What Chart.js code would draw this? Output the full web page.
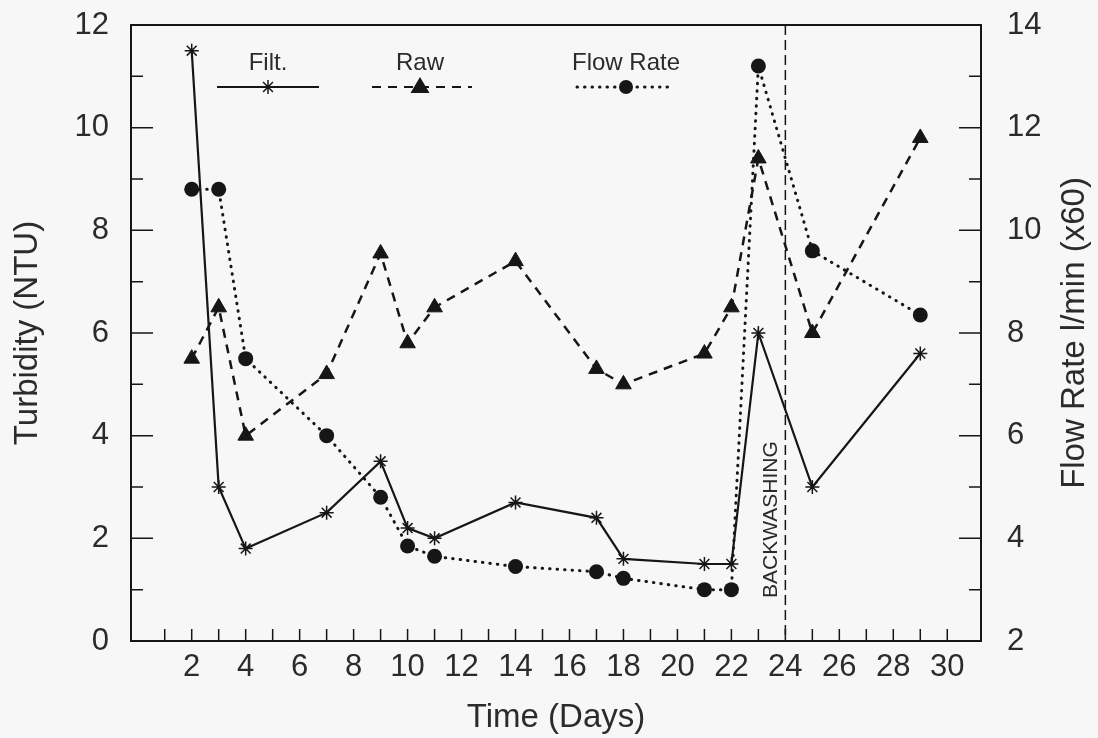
<!DOCTYPE html>
<html>
<head>
<meta charset="utf-8">
<script src="https://cdn.jsdelivr.net/npm/chart.js@4.4.0/dist/chart.umd.min.js"></script>
<style>
  html, body { margin: 0; padding: 0; background: #f7f7f7; }
  #wrap { width: 1098px; height: 738px; }
</style>
</head>
<body>
<div id="wrap"><canvas id="turbidity"></canvas></div>
<script>
// values
const days = [2, 3, 4, 7, 9, 10, 11, 14, 17, 18, 21, 22, 23, 25, 29];
const filtered = [11.5, 3.0, 1.8, 2.5, 3.5, 2.2, 2.0, 2.7, 2.4, 1.6, 1.5, 1.5, 6.0, 3.0, 5.6];
const raw = [5.5, 6.5, 4.0, 5.2, 7.55, 5.8, 6.5, 7.4, 5.3, 5.0, 5.6, 6.5, 9.4, 6.0, 9.8];
const flowRate = [10.8, 10.8, 7.5, 6.0, 4.8, 3.85, 3.65, 3.45, 3.35, 3.22, 3.0, 3.0, 13.2, 9.6, 8.35];

const dayTicks = [2, 4, 6, 8, 10, 12, 14, 16, 18, 20, 22, 24, 26, 28, 30];
const turbidityTicks = [0, 2, 4, 6, 8, 10, 12];
const flowTicks = [2, 4, 6, 8, 10, 12, 14];
const backwashDay = 24;
const flowTitle = 'Flow Rate l/min (x60)';

const ink = '#161616';
const textCol = '#2b2b2b';
const fontFam = '"Liberation Sans", Arial, Helvetica, sans-serif';

const toPoints = (vals) => days.map((d, i) => ({ x: d, y: vals[i] }));

// small marker painters for the legend
const drawStar = (ctx, x, y, r) => {
    ctx.beginPath();
    for (let k = 0; k < 4; k++) {
        const a = k * Math.PI / 4;
        ctx.moveTo(x - r * Math.cos(a), y - r * Math.sin(a));
        ctx.lineTo(x + r * Math.cos(a), y + r * Math.sin(a));
    }
    ctx.stroke();
}
const drawTriangle = (ctx, x, y, r) => {
    ctx.beginPath();
    ctx.moveTo(x, y - r);
    ctx.lineTo(x + r * 0.95, y + r * 0.6);
    ctx.lineTo(x - r * 0.95, y + r * 0.6);
    ctx.closePath();
    ctx.fill();
}
const drawDot = (ctx, x, y, r) => {
    ctx.beginPath();
    ctx.arc(x, y, r, 0, Math.PI * 2);
    ctx.fill();
}

const bgFill = {
    id: 'bgFill',
    beforeDraw(chart) {
        const ctx = chart.ctx;
        ctx.save();
        ctx.fillStyle = '#f7f7f7';
        ctx.fillRect(0, 0, chart.width, chart.height);
        ctx.restore();
    }
}

const backwash = {
    id: 'backwash',
    beforeDatasetsDraw(chart) {
        const { ctx, chartArea: a, scales } = chart;
        const px = scales.x.getPixelForValue(backwashDay);
        ctx.save();
        ctx.strokeStyle = ink;
        ctx.lineWidth = 1.5;
        ctx.setLineDash([10, 5]);
        ctx.beginPath();
        ctx.moveTo(px, a.top);
        ctx.lineTo(px, a.bottom);
        ctx.stroke();
        ctx.setLineDash([]);
        ctx.translate(px - 14, a.bottom - 43);
        ctx.rotate(-Math.PI / 2);
        ctx.fillStyle = textCol;
        ctx.font = '21px ' + fontFam;
        ctx.textAlign = 'left';
        ctx.textBaseline = 'middle';
        ctx.fillText('BACKWASHING', 0, 0);
        ctx.restore();
    }
}

const frameTicks = {
    id: 'frameTicks',
    afterDatasetsDraw(chart) {
        const { ctx, chartArea: a, scales } = chart;
        ctx.save();
        ctx.strokeStyle = ink;
        ctx.lineWidth = 2;
        ctx.strokeRect(a.left, a.top, a.right - a.left, a.bottom - a.top);
        ctx.lineWidth = 1.5;
        ctx.beginPath();
        for (let d = 1; d <= 30; d++) {
            const px = scales.x.getPixelForValue(d);
            ctx.moveTo(px, a.bottom);
            ctx.lineTo(px, a.bottom - 12);
        }
        for (let v = 0; v <= 12; v++) {
            const py = scales.y.getPixelForValue(v);
            ctx.moveTo(a.left, py);
            ctx.lineTo(a.left + (v % 2 === 0 ? 22 : 12), py);
        }
        for (let v = 2; v <= 14; v++) {
            const py = scales.y2.getPixelForValue(v);
            ctx.moveTo(a.right, py);
            ctx.lineTo(a.right - (v % 2 === 0 ? 22 : 12), py);
        }
        ctx.stroke();
        ctx.restore();

        // right axis title reads bottom-to-top like the left one
        ctx.save();
        ctx.translate(chart.width - 23, (a.top + a.bottom) / 2);
        ctx.rotate(-Math.PI / 2);
        ctx.fillStyle = textCol;
        ctx.font = '33px ' + fontFam;
        ctx.textAlign = 'center';
        ctx.textBaseline = 'middle';
        ctx.fillText(flowTitle, 0, 0);
        ctx.restore();
    }
}

const inlineLegend = {
    id: 'inlineLegend',
    afterDraw(chart) {
        const { ctx, chartArea: a } = chart;
        const top = a.top;
        const items = [
            { text: 'Filt.', x0: 86, x1: 188, mx: 137, dash: [], mark: 'star' },
            { text: 'Raw', x0: 241, x1: 341, mx: 289, dash: [9, 7], mark: 'tri' },
            { text: 'Flow Rate', x0: 446, x1: 542, mx: 495, dash: [0.5, 7], mark: 'dot' },
        ];
        ctx.save();
        ctx.font = '24px ' + fontFam;
        ctx.textAlign = 'center';
        ctx.textBaseline = 'middle';
        for (const it of items) {
            const ly = top + 62;
            ctx.fillStyle = textCol;
            ctx.fillText(it.text, a.left + it.mx, top + 38);
            ctx.strokeStyle = ink;
            ctx.fillStyle = ink;
            ctx.lineWidth = it.mark === 'dot' ? 3 : 2.2;
            ctx.lineCap = it.mark === 'dot' ? 'round' : 'butt';
            ctx.setLineDash(it.dash);
            ctx.beginPath();
            ctx.moveTo(a.left + it.x0, ly);
            ctx.lineTo(a.left + it.x1, ly);
            ctx.stroke();
            ctx.setLineDash([]);
            ctx.lineWidth = 1.5;
            if (it.mark === 'star') drawStar(ctx, a.left + it.mx, ly, 7);
            if (it.mark === 'tri') drawTriangle(ctx, a.left + it.mx, ly, 10);
            if (it.mark === 'dot') drawDot(ctx, a.left + it.mx, ly, 7);
        }
        ctx.restore();
    }
}

// pin the plot box: no label overflow padding from the side axes
const pinY = (width) => (s) => {
    s.width = width;
    s.paddingTop = 0;
    s.paddingBottom = 0;
}

const ctx = document.getElementById('turbidity');
new Chart(ctx, {
    type: 'line',
    data: {
        datasets: [
            {
                label: 'Filt.',
                data: toPoints(filtered),
                yAxisID: 'y',
                borderColor: ink,
                borderWidth: 2.2,
                pointStyle: 'star',
                pointRadius: 7,
                pointBorderWidth: 1.5,
                pointBorderColor: ink,
                pointBackgroundColor: 'transparent',
                tension: 0,
            },
            {
                label: 'Raw',
                data: toPoints(raw),
                yAxisID: 'y',
                borderColor: ink,
                borderWidth: 2.5,
                borderDash: [9, 7],
                pointStyle: 'triangle',
                pointRadius: 9,
                pointBorderWidth: 1,
                pointBorderColor: ink,
                pointBackgroundColor: ink,
                tension: 0,
            },
            {
                label: 'Flow Rate',
                data: toPoints(flowRate),
                yAxisID: 'y2',
                borderColor: ink,
                borderWidth: 3,
                borderDash: [0.5, 7],
                borderCapStyle: 'round',
                pointStyle: 'circle',
                pointRadius: 7.5,
                pointBorderWidth: 0,
                pointBackgroundColor: ink,
                tension: 0,
            },
        ]
    },
    options: {
        responsive: true,
        maintainAspectRatio: false,
        animation: false,
        events: [],
        layout: { padding: { top: 25, left: 0, right: 0, bottom: 0 } },
        plugins: {
            legend: { display: false },
            tooltip: { enabled: false },
        },
        scales: {
            x: {
                type: 'linear',
                min: -0.25,
                max: 31.25,
                afterBuildTicks: (s) => { s.ticks = dayTicks.map(v => ({ value: v })); },
                afterFit: (s) => { s.height = 97; s.paddingLeft = 0; s.paddingRight = 0; },
                grid: { display: false, drawTicks: false },
                border: { display: false },
                ticks: { color: textCol, font: { size: 31, family: fontFam }, padding: 8, maxRotation: 0, autoSkip: false },
                title: { display: true, text: 'Time (Days)', color: textCol, font: { size: 33, family: fontFam }, padding: { top: 0, bottom: 0 } },
            },
            y: {
                position: 'left',
                min: 0,
                max: 12,
                afterBuildTicks: (s) => { s.ticks = turbidityTicks.map(v => ({ value: v })); },
                afterFit: pinY(131),
                grid: { display: false, drawTicks: false },
                border: { display: false },
                ticks: { color: textCol, font: { size: 31, family: fontFam }, padding: 22 },
                title: { display: true, text: 'Turbidity (NTU)', color: textCol, font: { size: 33, family: fontFam }, padding: { top: 8, bottom: 0 } },
            },
            y2: {
                position: 'right',
                min: 2,
                max: 14,
                afterBuildTicks: (s) => { s.ticks = flowTicks.map(v => ({ value: v })); },
                afterFit: pinY(117),
                grid: { display: false, drawTicks: false },
                border: { display: false },
                ticks: { color: textCol, font: { size: 31, family: fontFam }, padding: 26 },
                title: { display: false },
            },
        }
    },
    plugins: [bgFill, backwash, frameTicks, inlineLegend]
});
</script>
</body>
</html>
